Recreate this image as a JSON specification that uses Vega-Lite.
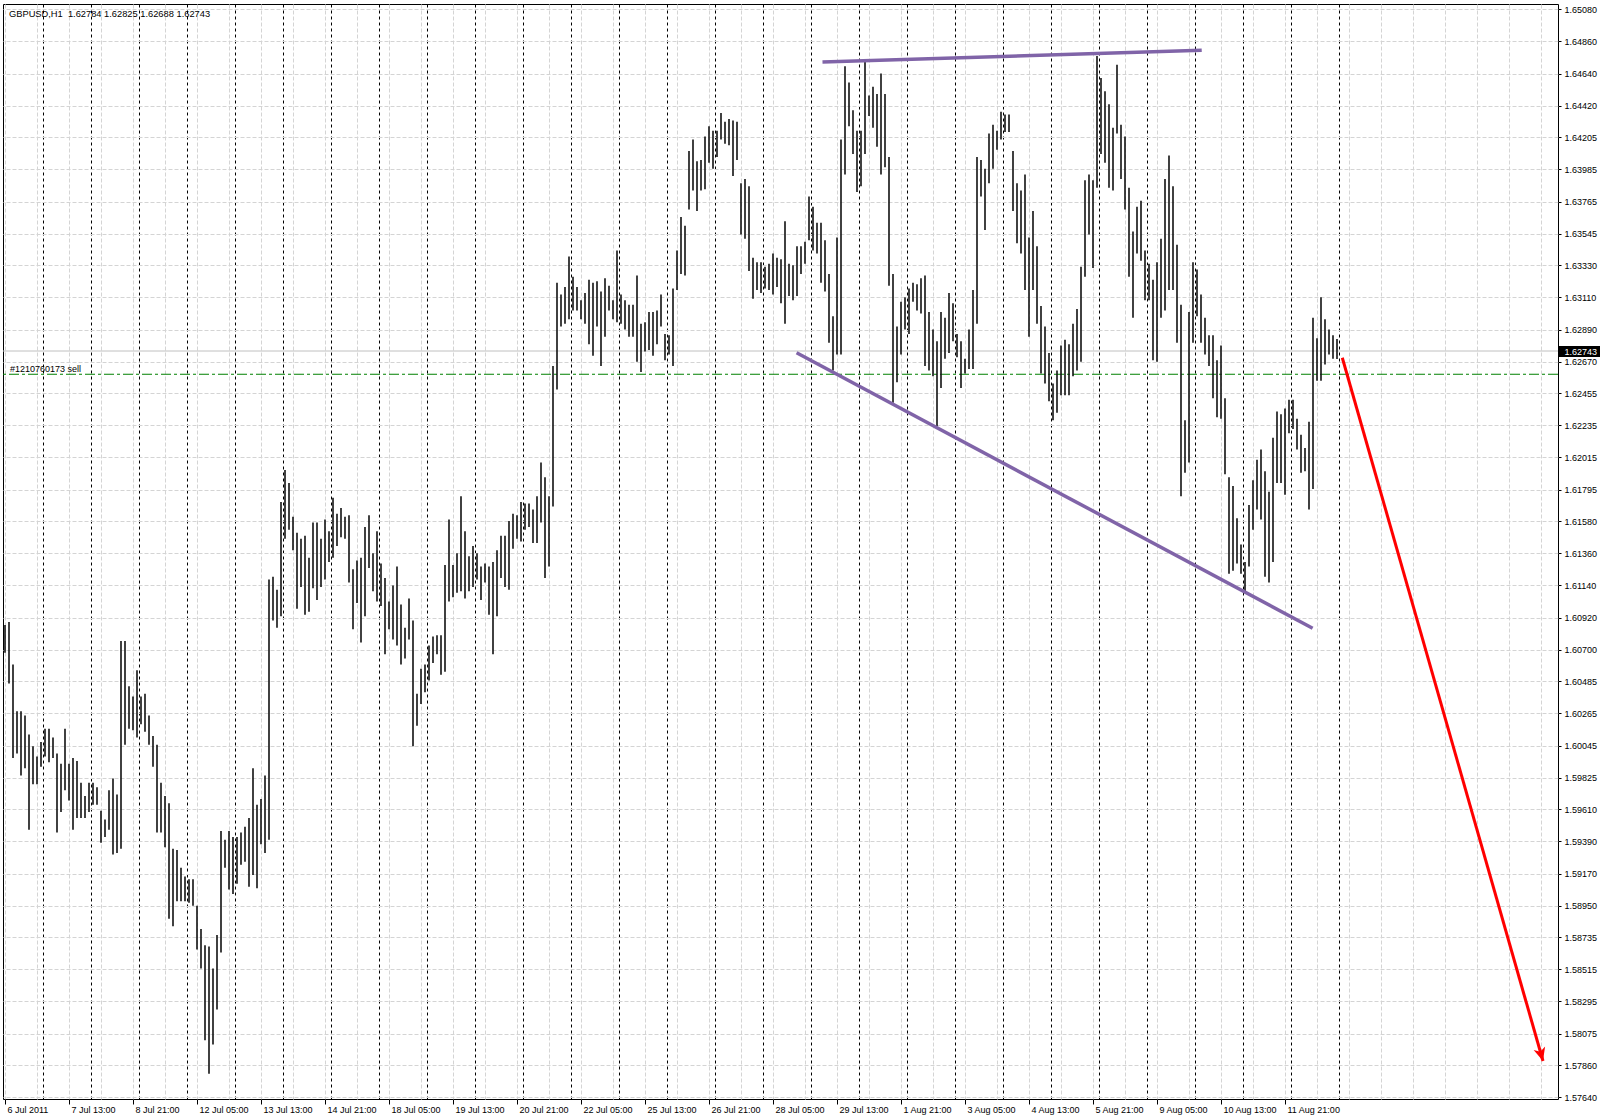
{
  "$schema": "https://vega.github.io/schema/vega-lite/v6.json",
  "width": 1555,
  "height": 1095,
  "autosize": {"type": "none"},
  "padding": {"left": 3, "top": 4, "right": 42, "bottom": 21},
  "background": "#ffffff",
  "title": {
    "text": "GBPUSD,H1\u00a0 1.62784 1.62825 1.62688 1.62743",
    "anchor": "start", "frame": "group", "orient": "top",
    "offset": -15, "baseline": "top", "dx": 6,
    "font": "Liberation Sans", "fontSize": 9.3, "fontWeight": "normal", "color": "#000"
  },
  "datasets": {
    "levels": [
      {"level": "bid", "price": 1.62743},
      {"level": "order", "price": 1.62584, "ticket": "#1210760173 sell"}
    ],
    "drawings": [
      {"obj": "top", "point": "start", "bar": 408.75, "price": 1.6472},
      {"obj": "top", "point": "end", "bar": 598.35, "price": 1.648},
      {"obj": "lower", "point": "start", "bar": 395.8, "price": 1.62731},
      {"obj": "lower", "point": "end", "bar": 653.8, "price": 1.60847},
      {"obj": "arrow", "point": "start", "bar": 668.65, "price": 1.62697},
      {"obj": "arrow", "point": "end", "bar": 769, "price": 1.57888}
    ],
    "bars": [
      {"bar":0,"high":1.6087,"low":1.6068},{"bar":2,"high":1.6089,"low":1.6047},{"bar":4,"high":1.6060,"low":1.5996},{"bar":6,"high":1.6028,"low":1.5999},
      {"bar":8,"high":1.6028,"low":1.5984},{"bar":10,"high":1.6025,"low":1.5989},{"bar":12,"high":1.6012,"low":1.5947},{"bar":14,"high":1.6004,"low":1.5978},
      {"bar":16,"high":1.5997,"low":1.5978},{"bar":18,"high":1.6007,"low":1.5990},{"bar":20,"high":1.6016,"low":1.5997},{"bar":22,"high":1.6016,"low":1.5993},
      {"bar":24,"high":1.6010,"low":1.5996},{"bar":26,"high":1.5999,"low":1.5945},{"bar":28,"high":1.5992,"low":1.5959},{"bar":30,"high":1.6016,"low":1.5974},
      {"bar":32,"high":1.5992,"low":1.5967},{"bar":34,"high":1.5996,"low":1.5947},{"bar":36,"high":1.5994,"low":1.5955},{"bar":38,"high":1.5979,"low":1.5955},
      {"bar":40,"high":1.5970,"low":1.5955},{"bar":42,"high":1.5979,"low":1.5959},{"bar":44,"high":1.5979,"low":1.5964},{"bar":46,"high":1.5976,"low":1.5964},
      {"bar":48,"high":1.5960,"low":1.5938},{"bar":50,"high":1.5954,"low":1.5942},{"bar":52,"high":1.5974,"low":1.5947},{"bar":54,"high":1.5982,"low":1.5930},
      {"bar":56,"high":1.5971,"low":1.5931},{"bar":58,"high":1.6076,"low":1.5934},{"bar":60,"high":1.6076,"low":1.6005},{"bar":62,"high":1.6045,"low":1.6016},
      {"bar":64,"high":1.6038,"low":1.6015},{"bar":66,"high":1.6056,"low":1.6010},{"bar":68,"high":1.6038,"low":1.6019},{"bar":70,"high":1.6040,"low":1.6014},
      {"bar":72,"high":1.6025,"low":1.6005},{"bar":74,"high":1.6011,"low":1.5990},{"bar":76,"high":1.6005,"low":1.5945},{"bar":78,"high":1.5979,"low":1.5945},
      {"bar":80,"high":1.5970,"low":1.5935},{"bar":82,"high":1.5965,"low":1.5886},{"bar":84,"high":1.5934,"low":1.5881},{"bar":86,"high":1.5933,"low":1.5898},
      {"bar":88,"high":1.5921,"low":1.5898},{"bar":90,"high":1.5915,"low":1.5898},{"bar":92,"high":1.5913,"low":1.5897},{"bar":94,"high":1.5913,"low":1.5895},
      {"bar":96,"high":1.5895,"low":1.5865},{"bar":98,"high":1.5879,"low":1.5852},{"bar":100,"high":1.5868,"low":1.5803},{"bar":102,"high":1.5867,"low":1.5780},
      {"bar":104,"high":1.5852,"low":1.5800},{"bar":106,"high":1.5875,"low":1.5824},{"bar":108,"high":1.5946,"low":1.5863},{"bar":110,"high":1.5940,"low":1.5921},
      {"bar":112,"high":1.5946,"low":1.5906},{"bar":114,"high":1.5942,"low":1.5903},{"bar":116,"high":1.5942,"low":1.5910},{"bar":118,"high":1.5945,"low":1.5923},
      {"bar":120,"high":1.5949,"low":1.5925},{"bar":122,"high":1.5955,"low":1.5908},{"bar":124,"high":1.5989,"low":1.5916},{"bar":126,"high":1.5964,"low":1.5907},
      {"bar":128,"high":1.5968,"low":1.5937},{"bar":130,"high":1.5984,"low":1.5931},{"bar":132,"high":1.6118,"low":1.5940},{"bar":134,"high":1.6120,"low":1.6090},
      {"bar":136,"high":1.6111,"low":1.6085},{"bar":138,"high":1.6171,"low":1.6093},{"bar":140,"high":1.6193,"low":1.6146},{"bar":142,"high":1.6184,"low":1.6152},
      {"bar":144,"high":1.6161,"low":1.6138},{"bar":146,"high":1.6150,"low":1.6098},{"bar":148,"high":1.6146,"low":1.6113},{"bar":150,"high":1.6148,"low":1.6094},
      {"bar":152,"high":1.6133,"low":1.6096},{"bar":154,"high":1.6157,"low":1.6112},{"bar":156,"high":1.6157,"low":1.6104},{"bar":158,"high":1.6146,"low":1.6113},
      {"bar":160,"high":1.6159,"low":1.6118},{"bar":162,"high":1.6151,"low":1.6130},{"bar":164,"high":1.6174,"low":1.6133},{"bar":166,"high":1.6163,"low":1.6141},
      {"bar":168,"high":1.6167,"low":1.6147},{"bar":170,"high":1.6161,"low":1.6146},{"bar":172,"high":1.6162,"low":1.6116},{"bar":174,"high":1.6125,"low":1.6084},
      {"bar":176,"high":1.6131,"low":1.6102},{"bar":178,"high":1.6133,"low":1.6075},{"bar":180,"high":1.6154,"low":1.6093},{"bar":182,"high":1.6162,"low":1.6126},
      {"bar":184,"high":1.6136,"low":1.6110},{"bar":186,"high":1.6151,"low":1.6103},{"bar":188,"high":1.6129,"low":1.6100},{"bar":190,"high":1.6119,"low":1.6067},
      {"bar":192,"high":1.6103,"low":1.6084},{"bar":194,"high":1.6114,"low":1.6077},{"bar":196,"high":1.6127,"low":1.6073},{"bar":198,"high":1.6101,"low":1.6060},
      {"bar":200,"high":1.6085,"low":1.6064},{"bar":202,"high":1.6105,"low":1.6077},{"bar":204,"high":1.6090,"low":1.6004},{"bar":206,"high":1.6040,"low":1.6018},
      {"bar":208,"high":1.6057,"low":1.6033},{"bar":210,"high":1.6060,"low":1.6041},{"bar":212,"high":1.6073,"low":1.6049},{"bar":214,"high":1.6079,"low":1.6061},
      {"bar":216,"high":1.6080,"low":1.6067},{"bar":218,"high":1.6080,"low":1.6053},{"bar":220,"high":1.6128,"low":1.6055},{"bar":222,"high":1.6159,"low":1.6103},
      {"bar":224,"high":1.6128,"low":1.6106},{"bar":226,"high":1.6136,"low":1.6109},{"bar":228,"high":1.6175,"low":1.6110},{"bar":230,"high":1.6151,"low":1.6105},
      {"bar":232,"high":1.6134,"low":1.6110},{"bar":234,"high":1.6141,"low":1.6113},{"bar":236,"high":1.6136,"low":1.6118},{"bar":238,"high":1.6127,"low":1.6104},
      {"bar":240,"high":1.6129,"low":1.6116},{"bar":242,"high":1.6127,"low":1.6094},{"bar":244,"high":1.6130,"low":1.6067},{"bar":246,"high":1.6138,"low":1.6093},
      {"bar":248,"high":1.6148,"low":1.6119},{"bar":250,"high":1.6148,"low":1.6113},{"bar":252,"high":1.6158,"low":1.6111},{"bar":254,"high":1.6163,"low":1.6139},
      {"bar":256,"high":1.6162,"low":1.6146},{"bar":258,"high":1.6171,"low":1.6144},{"bar":260,"high":1.6170,"low":1.6152},{"bar":262,"high":1.6170,"low":1.6154},
      {"bar":264,"high":1.6166,"low":1.6143},{"bar":266,"high":1.6175,"low":1.6143},{"bar":268,"high":1.6198,"low":1.6157},{"bar":270,"high":1.6188,"low":1.6119},
      {"bar":272,"high":1.6175,"low":1.6127},{"bar":274,"high":1.6264,"low":1.6168},{"bar":276,"high":1.6321,"low":1.6248},{"bar":278,"high":1.6313,"low":1.6291},
      {"bar":280,"high":1.6318,"low":1.6293},{"bar":282,"high":1.6339,"low":1.6296},{"bar":284,"high":1.6325,"low":1.6302},{"bar":286,"high":1.6318,"low":1.6302},
      {"bar":288,"high":1.6309,"low":1.6296},{"bar":290,"high":1.6314,"low":1.6293},{"bar":292,"high":1.6323,"low":1.6279},{"bar":294,"high":1.6321,"low":1.6271},
      {"bar":296,"high":1.6322,"low":1.6291},{"bar":298,"high":1.6315,"low":1.6264},{"bar":300,"high":1.6324,"low":1.6284},{"bar":302,"high":1.6319,"low":1.6302},
      {"bar":304,"high":1.6309,"low":1.6296},{"bar":306,"high":1.6343,"low":1.6294},{"bar":308,"high":1.6313,"low":1.6293},{"bar":310,"high":1.6309,"low":1.6289},
      {"bar":312,"high":1.6306,"low":1.6284},{"bar":314,"high":1.6306,"low":1.6284},{"bar":316,"high":1.6326,"low":1.6267},{"bar":318,"high":1.6293,"low":1.6260},
      {"bar":320,"high":1.6294,"low":1.6274},{"bar":322,"high":1.6301,"low":1.6275},{"bar":324,"high":1.6301,"low":1.6271},{"bar":326,"high":1.6302,"low":1.6279},
      {"bar":328,"high":1.6313,"low":1.6291},{"bar":330,"high":1.6286,"low":1.6268},{"bar":332,"high":1.6285,"low":1.6272},{"bar":334,"high":1.6317,"low":1.6264},
      {"bar":336,"high":1.6343,"low":1.6316},{"bar":338,"high":1.6366,"low":1.6327},{"bar":340,"high":1.6360,"low":1.6326},{"bar":342,"high":1.6411,"low":1.6371},
      {"bar":344,"high":1.6419,"low":1.6384},{"bar":346,"high":1.6404,"low":1.6370},{"bar":348,"high":1.6405,"low":1.6384},{"bar":350,"high":1.6421,"low":1.6385},
      {"bar":352,"high":1.6428,"low":1.6403},{"bar":354,"high":1.6425,"low":1.6399},{"bar":356,"high":1.6425,"low":1.6407},{"bar":358,"high":1.6437,"low":1.6419},
      {"bar":360,"high":1.6431,"low":1.6416},{"bar":362,"high":1.6433,"low":1.6415},{"bar":364,"high":1.6432,"low":1.6394},{"bar":366,"high":1.6431,"low":1.6405},
      {"bar":368,"high":1.6389,"low":1.6354},{"bar":370,"high":1.6392,"low":1.6351},{"bar":372,"high":1.6387,"low":1.6329},{"bar":374,"high":1.6338,"low":1.6310},
      {"bar":376,"high":1.6335,"low":1.6316},{"bar":378,"high":1.6335,"low":1.6314},{"bar":380,"high":1.6332,"low":1.6317},{"bar":382,"high":1.6334,"low":1.6316},
      {"bar":384,"high":1.6341,"low":1.6313},{"bar":386,"high":1.6338,"low":1.6318},{"bar":388,"high":1.6337,"low":1.6307},{"bar":390,"high":1.6363,"low":1.6293},
      {"bar":392,"high":1.6334,"low":1.6312},{"bar":394,"high":1.6333,"low":1.6309},{"bar":396,"high":1.6346,"low":1.6312},{"bar":398,"high":1.6346,"low":1.6327},
      {"bar":400,"high":1.6349,"low":1.6334},{"bar":402,"high":1.6380,"low":1.6350},{"bar":404,"high":1.6373,"low":1.6343},{"bar":406,"high":1.6362,"low":1.6341},
      {"bar":408,"high":1.6362,"low":1.6321},{"bar":410,"high":1.6350,"low":1.6315},{"bar":412,"high":1.6327,"low":1.6280},{"bar":414,"high":1.6298,"low":1.6261},
      {"bar":416,"high":1.6352,"low":1.6272},{"bar":418,"high":1.6419,"low":1.6272},{"bar":420,"high":1.6469,"low":1.6395},{"bar":422,"high":1.6458,"low":1.6428},
      {"bar":424,"high":1.6439,"low":1.6409},{"bar":426,"high":1.6425,"low":1.6383},{"bar":428,"high":1.6425,"low":1.6387},{"bar":430,"high":1.6473,"low":1.6409},
      {"bar":432,"high":1.6449,"low":1.6435},{"bar":434,"high":1.6455,"low":1.6427},{"bar":436,"high":1.6450,"low":1.6414},{"bar":438,"high":1.6464,"low":1.6395},
      {"bar":440,"high":1.6450,"low":1.6400},{"bar":442,"high":1.6407,"low":1.6319},{"bar":444,"high":1.6327,"low":1.6239},{"bar":446,"high":1.6291,"low":1.6253},
      {"bar":448,"high":1.6308,"low":1.6272},{"bar":450,"high":1.6311,"low":1.6289},{"bar":452,"high":1.6317,"low":1.6286},{"bar":454,"high":1.6321,"low":1.6308},
      {"bar":456,"high":1.6320,"low":1.6302},{"bar":458,"high":1.6324,"low":1.6300},{"bar":460,"high":1.6326,"low":1.6264},{"bar":462,"high":1.6301,"low":1.6261},
      {"bar":464,"high":1.6289,"low":1.6257},{"bar":466,"high":1.6281,"low":1.6223},{"bar":468,"high":1.6301,"low":1.6249},{"bar":470,"high":1.6297,"low":1.6269},
      {"bar":472,"high":1.6314,"low":1.6273},{"bar":474,"high":1.6307,"low":1.6281},{"bar":476,"high":1.6286,"low":1.6270},{"bar":478,"high":1.6281,"low":1.6249},
      {"bar":480,"high":1.6269,"low":1.6259},{"bar":482,"high":1.6289,"low":1.6262},{"bar":484,"high":1.6316,"low":1.6262},{"bar":486,"high":1.6407,"low":1.6293},
      {"bar":488,"high":1.6405,"low":1.6380},{"bar":490,"high":1.6399,"low":1.6357},{"bar":492,"high":1.6423,"low":1.6389},{"bar":494,"high":1.6429,"low":1.6399},
      {"bar":496,"high":1.6425,"low":1.6412},{"bar":498,"high":1.6438,"low":1.6419},{"bar":500,"high":1.6436,"low":1.6424},{"bar":502,"high":1.6436,"low":1.6424},
      {"bar":504,"high":1.6411,"low":1.6370},{"bar":506,"high":1.6389,"low":1.6348},{"bar":508,"high":1.6384,"low":1.6341},{"bar":510,"high":1.6395,"low":1.6316},
      {"bar":512,"high":1.6352,"low":1.6284},{"bar":514,"high":1.6370,"low":1.6316},{"bar":516,"high":1.6346,"low":1.6293},{"bar":518,"high":1.6305,"low":1.6259},
      {"bar":520,"high":1.6291,"low":1.6252},{"bar":522,"high":1.6273,"low":1.6240},{"bar":524,"high":1.6252,"low":1.6227},{"bar":526,"high":1.6261,"low":1.6232},
      {"bar":528,"high":1.6278,"low":1.6244},{"bar":530,"high":1.6282,"low":1.6244},{"bar":532,"high":1.6279,"low":1.6244},{"bar":534,"high":1.6293,"low":1.6257},
      {"bar":536,"high":1.6303,"low":1.6261},{"bar":538,"high":1.6332,"low":1.6267},{"bar":540,"high":1.6391,"low":1.6325},{"bar":542,"high":1.6395,"low":1.6354},
      {"bar":544,"high":1.6391,"low":1.6331},{"bar":546,"high":1.6476,"low":1.6386},{"bar":548,"high":1.6461,"low":1.6409},{"bar":550,"high":1.6452,"low":1.6403},
      {"bar":552,"high":1.6443,"low":1.6386},{"bar":554,"high":1.6427,"low":1.6384},{"bar":556,"high":1.6470,"low":1.6423},{"bar":558,"high":1.6429,"low":1.6392},
      {"bar":560,"high":1.6421,"low":1.6371},{"bar":562,"high":1.6386,"low":1.6325},{"bar":564,"high":1.6356,"low":1.6297},{"bar":566,"high":1.6373,"low":1.6341},
      {"bar":568,"high":1.6377,"low":1.6336},{"bar":570,"high":1.6343,"low":1.6309},{"bar":572,"high":1.6334,"low":1.6309},{"bar":574,"high":1.6323,"low":1.6268},
      {"bar":576,"high":1.6335,"low":1.6267},{"bar":578,"high":1.6351,"low":1.6297},{"bar":580,"high":1.6392,"low":1.6302},{"bar":582,"high":1.6408,"low":1.6316},
      {"bar":584,"high":1.6387,"low":1.6316},{"bar":586,"high":1.6347,"low":1.6280},{"bar":588,"high":1.6306,"low":1.6175},{"bar":590,"high":1.6227,"low":1.6191},
      {"bar":592,"high":1.6301,"low":1.6198},{"bar":594,"high":1.6335,"low":1.6280},{"bar":596,"high":1.6330,"low":1.6298},{"bar":598,"high":1.6313,"low":1.6280},
      {"bar":600,"high":1.6297,"low":1.6272},{"bar":602,"high":1.6285,"low":1.6264},{"bar":604,"high":1.6285,"low":1.6242},{"bar":606,"high":1.6268,"low":1.6229},
      {"bar":608,"high":1.6278,"low":1.6228},{"bar":610,"high":1.6242,"low":1.6190},{"bar":612,"high":1.6188,"low":1.6122},{"bar":614,"high":1.6182,"low":1.6124},
      {"bar":616,"high":1.6160,"low":1.6129},{"bar":618,"high":1.6142,"low":1.6122},{"bar":620,"high":1.6130,"low":1.6110},{"bar":622,"high":1.6169,"low":1.6127},
      {"bar":624,"high":1.6186,"low":1.6152},{"bar":626,"high":1.6200,"low":1.6166},{"bar":628,"high":1.6207,"low":1.6159},{"bar":630,"high":1.6192,"low":1.6120},
      {"bar":632,"high":1.6178,"low":1.6116},{"bar":634,"high":1.6215,"low":1.6130},{"bar":636,"high":1.6233,"low":1.6184},{"bar":638,"high":1.6231,"low":1.6184},
      {"bar":640,"high":1.6235,"low":1.6176},{"bar":642,"high":1.6241,"low":1.6218},{"bar":644,"high":1.6241,"low":1.6221},{"bar":646,"high":1.6228,"low":1.6207},
      {"bar":648,"high":1.6217,"low":1.6191},{"bar":650,"high":1.6208,"low":1.6192},{"bar":652,"high":1.6226,"low":1.6166},{"bar":654,"high":1.6297,"low":1.6180},
      {"bar":656,"high":1.6283,"low":1.6254},{"bar":658,"high":1.6311,"low":1.6254},{"bar":660,"high":1.6296,"low":1.6265},{"bar":662,"high":1.6289,"low":1.6272},
      {"bar":664,"high":1.6285,"low":1.6269},{"bar":666,"high":1.62825,"low":1.62688}
    ]
  },
  "layer": [
    {
      "data": {"name": "levels"},
      "transform": [{"filter": "datum.level == 'bid'"}],
      "mark": {"type": "rule", "color": "#c0c0c0", "strokeWidth": 1},
      "encoding": {
        "y": {
          "field": "price", "type": "quantitative",
          "scale": {"domain": [1.57628, 1.65116], "nice": false, "zero": false},
          "axis": {
            "orient": "right", "values": [1.62743], "format": ".5f", "title": null,
            "domain": false, "grid": false, "tickSize": 42, "tickWidth": 11, "tickColor": "#000",
            "labelColor": "#fff", "labelPadding": -36, "labelFontSize": 9, "zindex": 1
          }
        }
      }
    },
    {
      "data": {"name": "levels"},
      "transform": [{"filter": "datum.level == 'order'"}],
      "mark": {"type": "rule", "color": "#008000", "strokeWidth": 1, "strokeDash": [10, 3, 3, 3]},
      "encoding": {
        "y": {"field": "price", "type": "quantitative", "scale": {"domain": [1.57628, 1.65116], "nice": false, "zero": false}, "axis": null}
      }
    },
    {
      "data": {"name": "levels"},
      "transform": [{"filter": "datum.level == 'order'"}],
      "mark": {"type": "text", "align": "left", "baseline": "alphabetic", "dx": 7, "dy": -2, "fontSize": 9, "font": "Liberation Sans", "color": "#000"},
      "encoding": {
        "x": {"datum": -1, "type": "quantitative", "scale": {"domain": [-1, 776.5], "nice": false, "zero": false}, "axis": null},
        "y": {"field": "price", "type": "quantitative", "scale": {"domain": [1.57628, 1.65116], "nice": false, "zero": false}, "axis": null},
        "text": {"field": "ticket"}
      }
    },
    {
      "data": {"name": "bars"},
      "mark": {"type": "rule", "color": "#111", "strokeWidth": 1.6},
      "encoding": {
        "x": {
          "field": "bar", "type": "quantitative",
          "scale": {"domain": [-1, 776.5], "nice": false, "zero": false},
          "axis": {
            "orient": "bottom", "title": null, "domain": false, "grid": false,
            "values": [0, 32, 64, 96, 128, 160, 192, 224, 256, 288, 320, 352, 384, 416, 448, 480, 512, 544, 576, 608, 640],
            "labelExpr": "['6 Jul 2011','7 Jul 13:00','8 Jul 21:00','12 Jul 05:00','13 Jul 13:00','14 Jul 21:00','18 Jul 05:00','19 Jul 13:00','20 Jul 21:00','22 Jul 05:00','25 Jul 13:00','26 Jul 21:00','28 Jul 05:00','29 Jul 13:00','1 Aug 21:00','3 Aug 05:00','4 Aug 13:00','5 Aug 21:00','9 Aug 05:00','10 Aug 13:00','11 Aug 21:00'][round(datum.value / 32)]",
            "labelAlign": "left", "labelBaseline": "top", "labelOffset": 2, "labelPadding": 1,
            "labelFlush": false, "labelOverlap": false, "tickSize": 5, "tickColor": "#000"
          }
        },
        "y": {
          "field": "high", "type": "quantitative",
          "scale": {"domain": [1.57628, 1.65116], "nice": false, "zero": false},
          "axis": {
            "orient": "right", "title": null, "domain": false, "format": ".5f",
            "values": [1.5764, 1.5786, 1.58075, 1.58295, 1.58515, 1.58735, 1.5895, 1.5917, 1.5939, 1.5961, 1.59825, 1.60045, 1.60265, 1.60485, 1.607, 1.6092, 1.6114, 1.6136, 1.6158, 1.61795, 1.62015, 1.62235, 1.62455, 1.6267, 1.6289, 1.6311, 1.6333, 1.63545, 1.63765, 1.63985, 1.64205, 1.6442, 1.6464, 1.6486, 1.6508],
            "tickSize": 3, "tickColor": "#000", "labelPadding": 3, "labelFlush": false, "labelOverlap": false,
            "grid": true, "gridColor": "#d4d4d4", "gridDash": [4, 2]
          }
        },
        "y2": {"field": "low"}
      }
    },
    {
      "data": {"name": "drawings"},
      "transform": [{"filter": "datum.obj != 'arrow'"}],
      "mark": {"type": "line", "color": "#8064a8", "strokeWidth": 3.5},
      "encoding": {
        "x": {
          "field": "bar", "type": "quantitative",
          "scale": {"domain": [-1, 776.5], "nice": false, "zero": false},
          "axis": {
            "orient": "bottom", "title": null, "labels": false, "ticks": false, "domain": false,
            "values": [0, 16, 32, 48, 64, 80, 96, 112, 128, 144, 160, 176, 192, 208, 224, 240, 256, 272, 288, 304, 320, 336, 352, 368, 384, 400, 416, 432, 448, 464, 480, 496, 512, 528, 544, 560, 576, 592, 608, 624, 640, 656, 672, 688, 704, 720, 736, 752, 768],
            "grid": true, "gridColor": "#d4d4d4", "gridDash": [4, 2]
          }
        },
        "y": {"field": "price", "type": "quantitative", "scale": {"domain": [1.57628, 1.65116], "nice": false, "zero": false}, "axis": null},
        "detail": {"field": "obj"}
      }
    },
    {
      "data": {"name": "drawings"},
      "transform": [{"filter": "datum.obj == 'arrow'"}],
      "mark": {"type": "line", "color": "#ff0000", "strokeWidth": 3},
      "encoding": {
        "x": {
          "field": "bar", "type": "quantitative",
          "scale": {"domain": [-1, 776.5], "nice": false, "zero": false},
          "axis": {
            "orient": "bottom", "title": null, "labels": false, "ticks": false, "domain": false,
            "values": [19, 43, 67, 91, 115, 139, 163, 187, 211, 235, 259, 283, 307, 331, 355, 379, 403, 427, 451, 475, 499, 523, 547, 571, 595, 619, 643, 667],
            "grid": true, "gridColor": "#000", "gridDash": [3, 3]
          }
        },
        "y": {"field": "price", "type": "quantitative", "scale": {"domain": [1.57628, 1.65116], "nice": false, "zero": false}, "axis": null}
      }
    },
    {
      "data": {"name": "drawings"},
      "transform": [{"filter": "datum.obj == 'arrow' && datum.point == 'end'"}],
      "mark": {"type": "point", "filled": true, "color": "#ff0000", "opacity": 1, "size": 700, "angle": 344, "shape": "M0,0L-0.45,-1L0,-0.72L0.45,-1Z"},
      "encoding": {
        "x": {"field": "bar", "type": "quantitative", "scale": {"domain": [-1, 776.5], "nice": false, "zero": false}, "axis": null},
        "y": {"field": "price", "type": "quantitative", "scale": {"domain": [1.57628, 1.65116], "nice": false, "zero": false}, "axis": null}
      }
    }
  ],
  "resolve": {"axis": {"x": "independent", "y": "independent"}},
  "config": {
    "view": {"stroke": "#000", "strokeWidth": 1},
    "axis": {"labelFont": "Liberation Sans", "labelFontSize": 9, "labelColor": "#000"}
  }
}
